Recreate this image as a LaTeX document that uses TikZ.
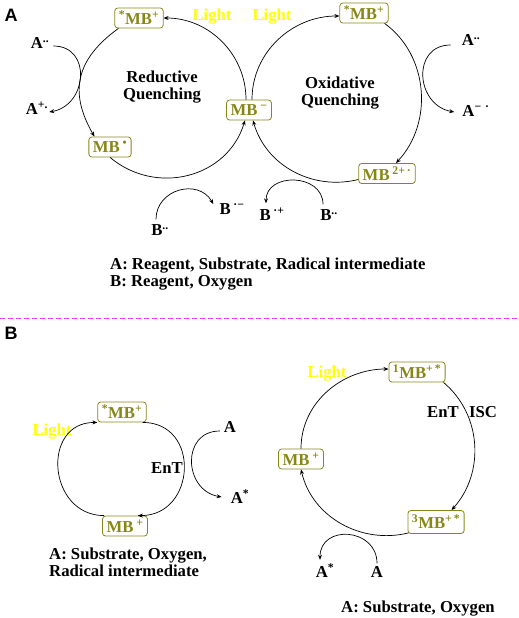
\documentclass[tikz,border=0pt]{standalone}
\usepackage{fontspec}
\setmainfont{Liberation Serif}
\newfontfamily\labfont{Liberation Sans}
\usetikzlibrary{arrows.meta}
\definecolor{olivec}{RGB}{135,135,25}
\definecolor{lightc}{RGB}{255,255,0}
\definecolor{dashc}{RGB}{240,60,240}
\newcommand\spx[1]{\textsuperscript{#1}}
\begin{document}
\begin{tikzpicture}[x=1pt,y=1pt,
  every node/.style={font=\fontsize{16.7}{17}\selectfont\bfseries, inner sep=1pt},
  mbbox/.style={draw=olivec, text=olivec, rounded corners=3pt, line width=0.8pt, inner xsep=4pt, inner ysep=3pt, minimum height=20pt},
  lighttxt/.style={text=lightc},
  panellab/.style={font=\labfont\fontsize{18}{18}\selectfont\bfseries},
  arr/.style={-{Stealth[length=5pt,width=4pt]}, line width=0.7pt}]
\useasboundingbox (0,0) rectangle (519,-618);

% ---------- Panel A ----------
\node[panellab] (labA) at (11,-15) {A};
\node[mbbox] (smbL) at (139,-18) {\spx{*}MB\spx{+}};
\node[mbbox] (smbR) at (364,-13) {\spx{*}MB\spx{+}};
\node[mbbox] (mbm) at (249,-110) {MB\,\spx{−}};
\node[mbbox] (mbd) at (110,-147) {MB\,\spx{•}};
\node[mbbox] (mb2) at (387,-173.5) {MB\,\spx{2+\,·}};
\node[lighttxt] (l1) at (212,-17) {Light};
\node[lighttxt] (l2) at (272,-17) {Light};
\node[align=center] (rq) at (162,-87) {Reductive\\Quenching};
\node[align=center] (oq) at (340,-93) {Oxidative\\Quenching};
\node (Al) at (40,-43) {A\spx{..}};
\node (Ap) at (37,-108) {A\spx{+.}};
\node (Ar) at (471,-40) {A\spx{..}};
\node (Am) at (476,-111) {A\spx{−\,\,·}};
\node (Bm) at (232,-209) {B\,\spx{·−}};
\node (Bl) at (160,-230) {B\spx{..}};
\node (Bp) at (272,-214) {B\,\spx{·+}};
\node (Br) at (329,-215) {B\spx{..}};
\node[anchor=west, align=left] (legA) at (109,-274) {A: Reagent, Substrate, Radical intermediate\\B: Reagent, Oxygen};

\draw[arr] ([xshift=-3pt]mbm.north) to[out=90,in=0] (smbL.east);
\draw[arr] ([xshift=4pt]smbL.south west) to[out=216,in=120,looseness=1.2] ([xshift=6pt]mbd.north west);
\draw[arr] (mbd.south) to[out=320,in=253,looseness=1.1] ([xshift=-4pt]mbm.south);
\draw[arr] ([xshift=3pt]mbm.north) to[out=90,in=180] ([yshift=-3pt]smbR.west);
\draw[arr] ([xshift=-4pt]smbR.south east) to[out=-36,in=47] ([xshift=9pt]mb2.north);
\draw[arr] ([yshift=-6pt]mb2.west) to[out=194,in=286] ([xshift=4pt]mbm.south);

\draw[arr] ([xshift=3pt,yshift=-3pt]Al.east) to[out=0,in=10,looseness=1.5] ([yshift=-4pt]Ap.east);
\draw[arr] ([xshift=-10pt,yshift=-5pt]Ar.west) to[out=180,in=170,looseness=1.5] ([xshift=-7pt,yshift=-1pt]Am.west);
\draw[arr] ([xshift=-4pt,yshift=4pt]Bl.north) to[out=90,in=120,looseness=1.3] ([xshift=-5pt,yshift=5pt]Bm.west);
\draw[arr] ([xshift=-6pt,yshift=4pt]Br.north) to[out=90,in=90,looseness=1.4] ([xshift=-6pt,yshift=3pt]Bp.north);

% ---------- separator ----------
\coordinate (dl) at (0,-318);
\coordinate (dr) at (519,-318);
\draw[dashc, line width=0.8pt, dash pattern=on 5pt off 3pt] (dl) -- (dr);

% ---------- Panel B ----------
\node[panellab] (labB) at (11,-333) {B};
\node[mbbox] (smb2) at (122,-412) {\spx{*}MB\spx{+}};
\node[mbbox] (mbp2) at (125,-526) {MB\,\spx{+}};
\node[lighttxt] (l3) at (52,-432) {Light};
\node (ent1) at (167,-468) {EnT};
\node (Ab) at (230,-427) {A};
\node (As) at (240,-497) {A\spx{*}};
\node[anchor=west,align=left] (legB1) at (48,-562.5) {A: Substrate, Oxygen,\\Radical intermediate};

\draw[arr] ([xshift=2pt]mbp2.north west) to[out=180,in=180,looseness=1.55] (smb2.south west);
\draw[arr] ([xshift=-4pt]smb2.south east) to[out=0,in=0,looseness=1.6] ([xshift=-10pt]mbp2.north east);
\draw[arr] ([xshift=-3pt,yshift=-4pt]Ab.west) to[out=180,in=170,looseness=1.5] ([xshift=-8pt]As.west);

\node[mbbox] (s1) at (417,-372) {\spx{1}MB\spx{+\,*}};
\node[mbbox] (mbp3) at (301,-459) {MB\,\spx{+}};
\node[mbbox, minimum height=23pt] (t3) at (436,-522) {\spx{3}MB\spx{+\,*}};
\node[lighttxt] (l4) at (327,-374) {Light};
\node (ent2) at (443,-412) {EnT};
\node (isc) at (483,-412) {ISC};
\node (As2) at (325,-571) {A\spx{*}};
\node (Ab2) at (377,-572) {A};
\node[anchor=west] (legB2) at (340,-609) {A: Substrate, Oxygen};

\draw[arr] (mbp3.north) to[out=90,in=180] ([yshift=3pt]s1.west);
\draw[arr] ([xshift=-2pt]s1.south east) to[out=-40,in=48] ([xshift=-13pt]t3.north east);
\draw[arr] ([xshift=1pt,yshift=1pt]t3.south west) to[out=194,in=283] (mbp3.south);
\draw[arr] ([yshift=2pt]Ab2.north) to[out=90,in=90,looseness=1.6] ([xshift=-5pt,yshift=3pt]As2.north);
\end{tikzpicture}
\end{document}
